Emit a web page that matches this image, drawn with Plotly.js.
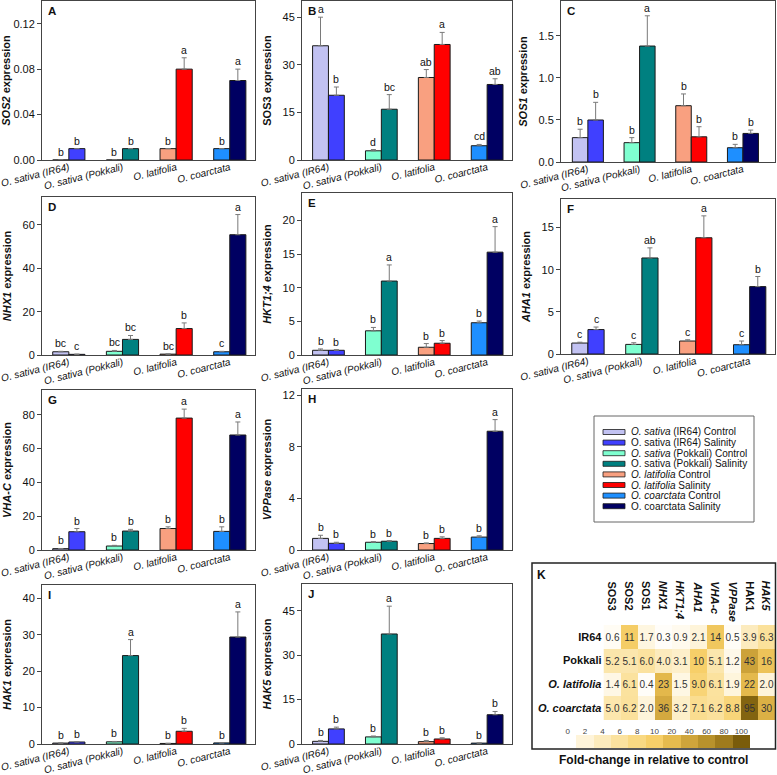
<!DOCTYPE html>
<html><head><meta charset="utf-8">
<script src="https://cdn.plot.ly/plotly-3.0.1.min.js"></script>
<style>html,body{margin:0;padding:0;background:#fff}#chart{width:777px;height:775px}</style>
</head><body><div id="chart"></div>
<script>
// ---------------- DATA ----------------
const groups = ['O. sativa (IR64)', 'O. sativa (Pokkali)', 'O. latifolia', 'O. coarctata'];
const seriesNames = ['<i>O. sativa</i> (IR64) Control', 'O. sativa (IR64) Salinity',
  '<i>O. sativa</i> (Pokkali) Control', 'O. sativa (Pokkali) Salinity',
  '<i>O. latifolia</i> Control', '<i>O. latifolia</i> Salinity',
  '<i>O. coarctata</i> Control', 'O. coarctata Salinity'];

// A  SOS2
const sos2Ctrl = [0, 0, 0.01, 0.01];
const sos2CtrlErr = [0, 0, 0, 0];
const sos2Sal = [0.01, 0.01, 0.08, 0.07];
const sos2SalErr = [0, 0, 0.01, 0.01];
const sos2CtrlLet = ['b', 'b', 'b', 'b'];
const sos2SalLet = ['b', 'b', 'a', 'a'];
// B  SOS3
const sos3Ctrl = [36, 2.9, 26, 4.5];
const sos3CtrlErr = [9, 0.4, 2.5, 0.4];
const sos3Sal = [20.4, 16.0, 36.4, 23.8];
const sos3SalErr = [2.6, 4.6, 3.8, 1.8];
const sos3CtrlLet = ['a', 'd', 'ab', 'cd'];
const sos3SalLet = ['b', 'bc', 'a', 'ab'];
// C  SOS1
const sos1Ctrl = [0.29, 0.23, 0.67, 0.17];
const sos1CtrlErr = [0.1, 0.06, 0.14, 0.04];
const sos1Sal = [0.50, 1.38, 0.30, 0.34];
const sos1SalErr = [0.21, 0.36, 0.12, 0.04];
const sos1CtrlLet = ['b', 'b', 'b', 'b'];
const sos1SalLet = ['b', 'a', 'b', 'b'];
// D  NHX1
const nhx1Ctrl = [1.5, 1.7, 0.4, 1.5];
const nhx1CtrlErr = [0.2, 0.4, 0.1, 0.2];
const nhx1Sal = [0.3, 7.2, 12.2, 55.5];
const nhx1SalErr = [0.1, 1.8, 2.6, 9.3];
const nhx1CtrlLet = ['bc', 'bc', 'bc', 'c'];
const nhx1SalLet = ['c', 'bc', 'b', 'a'];
// E  HKT1;4
const hktCtrl = [0.7, 3.6, 1.15, 4.8];
const hktCtrlErr = [0.2, 0.5, 0.55, 0.25];
const hktSal = [0.7, 11.0, 1.75, 15.3];
const hktSalErr = [0.1, 2.4, 0.4, 3.8];
const hktCtrlLet = ['b', 'b', 'b', 'b'];
const hktSalLet = ['b', 'a', 'b', 'a'];
// F  AHA1
const aha1Ctrl = [1.3, 1.14, 1.54, 1.1];
const aha1CtrlErr = [0.1, 0.2, 0.15, 0.44];
const aha1Sal = [2.9, 11.4, 13.8, 8.0];
const aha1SalErr = [0.3, 1.2, 2.6, 1.2];
const aha1CtrlLet = ['c', 'c', 'c', 'c'];
const aha1SalLet = ['c', 'ab', 'a', 'b'];
// G  VHA-C
const vhaCtrl = [0.8, 2.35, 12.7, 11.0];
const vhaCtrlErr = [0.1, 0.4, 1.0, 2.7];
const vhaSal = [10.8, 11.2, 78, 68];
const vhaSalErr = [1.9, 1.0, 5.3, 7.7];
const vhaCtrlLet = ['b', 'b', 'b', 'b'];
const vhaSalLet = ['b', 'b', 'a', 'a'];
// H  VPPase
const vppCtrl = [0.9, 0.6, 0.5, 1.0];
const vppCtrlErr = [0.24, 0.05, 0.05, 0.1];
const vppSal = [0.52, 0.68, 0.9, 9.2];
const vppSalErr = [0.08, 0.05, 0.12, 0.9];
const vppCtrlLet = ['b', 'b', 'b', 'b'];
const vppSalLet = ['b', 'b', 'b', 'a'];
// I  HAK1
const hak1Ctrl = [0.25, 0.6, 0.15, 0.3];
const hak1CtrlErr = [0.05, 0.1, 0.05, 0.05];
const hak1Sal = [0.55, 24.3, 3.5, 29.4];
const hak1SalErr = [0.1, 4.4, 0.8, 6.9];
const hak1CtrlLet = ['b', 'b', 'b', 'b'];
const hak1SalLet = ['b', 'a', 'b', 'a'];
// J  HAK5
const hak5Ctrl = [0.9, 2.4, 0.8, 0.3];
const hak5CtrlErr = [0.3, 0.3, 0.4, 0.05];
const hak5Sal = [5.1, 37.2, 1.7, 9.9];
const hak5SalErr = [0.6, 9.4, 0.4, 1.1];
const hak5CtrlLet = ['b', 'b', 'b', 'b'];
const hak5SalLet = ['b', 'a', 'b', 'b'];

// K  heatmap: fold-change relative to control
const genes = ['SOS3', 'SOS2', 'SOS1', 'NHX1', 'HKT1;4', 'AHA1', 'VHA-c', 'VPPase', 'HAK1', 'HAK5'];
const heatRows = ['IR64', 'Pokkali', 'O. latifolia', 'O. coarctata'];
const foldIR64 = [0.6, 11, 1.7, 0.3, 0.9, 2.1, 14, 0.5, 3.9, 6.3];
const foldPokkali = [5.2, 5.1, 6.0, 4.0, 3.1, 10, 5.1, 1.2, 43, 16];
const foldLatifolia = [1.4, 6.1, 0.4, 23, 1.5, 9.0, 6.1, 1.9, 22, 2.0];
const foldCoarctata = [5.0, 6.2, 2.0, 36, 3.2, 7.1, 6.2, 8.8, 95, 30];
const scaleSteps = [0, 2, 4, 6, 8, 10, 20, 40, 60, 80, 100];

// ---------------- STYLE ----------------
const ctrlColors = ['#c2c2f2', '#7fffd0', '#f9a080', '#1e8fff'];
const salColors = ['#4040ff', '#008080', '#ff0000', '#000062'];
const stepColors = ['#ffffff', '#fef4da', '#fcebbd', '#fbe29f', '#f9d983', '#f7cf69',
  '#e6bb4e', '#cfa53b', '#b8922c', '#9f7b1d', '#7a5c0b'];
const FONT = 'Liberation Sans, Arial, sans-serif';
const W = 777, H = 775;
const px = v => v / W;
const py = v => 1 - v / H;

const panels = [
  {L: 'A', t: '<b><i>SOS2</i> expression</b>', c: sos2Ctrl, ce: sos2CtrlErr, s: sos2Sal, se: sos2SalErr, cl: sos2CtrlLet, sl: sos2SalLet, r: [0, 0.14], dt: 0.04, f: '.2f', b: [42, 255, 1, 160], xr: [-0.5, 3.47]},
  {L: 'B', t: '<b>SOS3 expression</b>', c: sos3Ctrl, ce: sos3CtrlErr, s: sos3Sal, se: sos3SalErr, cl: sos3CtrlLet, sl: sos3SalLet, r: [0, 50.1], dt: 15, f: '', b: [302, 512, 1, 160], xr: [-0.5, 3.47]},
  {L: 'C', t: '<b><i>SOS1</i> expression</b>', c: sos1Ctrl, ce: sos1CtrlErr, s: sos1Sal, se: sos1SalErr, cl: sos1CtrlLet, sl: sos1SalLet, r: [0, 1.916], dt: 0.5, f: '.1f', b: [561, 775, 1, 162], xr: [-0.52, 3.62]},
  {L: 'D', t: '<b><i>NHX1</i> expression</b>', c: nhx1Ctrl, ce: nhx1CtrlErr, s: nhx1Sal, se: nhx1SalErr, cl: nhx1CtrlLet, sl: nhx1SalLet, r: [0, 72.9], dt: 20, f: '', b: [42, 255, 197, 355], xr: [-0.5, 3.47]},
  {L: 'E', t: '<b><i>HKT1;4</i> expression</b>', c: hktCtrl, ce: hktCtrlErr, s: hktSal, se: hktSalErr, cl: hktCtrlLet, sl: hktSalLet, r: [0, 24.1], dt: 5, f: '', b: [302, 512, 193, 355], xr: [-0.5, 3.47]},
  {L: 'F', t: '<b><i>AHA1</i> expression</b>', c: aha1Ctrl, ce: aha1CtrlErr, s: aha1Sal, se: aha1SalErr, cl: aha1CtrlLet, sl: aha1SalLet, r: [0, 18.4], dt: 5, f: '', b: [561, 775, 199, 354], xr: [-0.5, 3.47]},
  {L: 'G', t: '<b><i>VHA-C</i> expression</b>', c: vhaCtrl, ce: vhaCtrlErr, s: vhaSal, se: vhaSalErr, cl: vhaCtrlLet, sl: vhaSalLet, r: [0, 94.6], dt: 20, f: '', b: [42, 255, 390, 550], xr: [-0.5, 3.47]},
  {L: 'H', t: '<b><i>VPPase</i> expression</b>', c: vppCtrl, ce: vppCtrlErr, s: vppSal, se: vppSalErr, cl: vppCtrlLet, sl: vppSalLet, r: [0, 12.47], dt: 4, f: '', b: [302, 512, 389, 550], xr: [-0.5, 3.47]},
  {L: 'I', t: '<b><i>HAK1</i> expression</b>', c: hak1Ctrl, ce: hak1CtrlErr, s: hak1Sal, se: hak1SalErr, cl: hak1CtrlLet, sl: hak1SalLet, r: [0, 43.7], dt: 10, f: '', b: [42, 255, 585, 744], xr: [-0.5, 3.47]},
  {L: 'J', t: '<b><i>HAK5</i> expression</b>', c: hak5Ctrl, ce: hak5CtrlErr, s: hak5Sal, se: hak5SalErr, cl: hak5CtrlLet, sl: hak5SalLet, r: [0, 54.1], dt: 15, f: '', b: [302, 512, 584, 744], xr: [-0.5, 3.47]}
];

const traces = [];
const annotations = [];
const shapes = [];
const layout = {
  width: W, height: H, margin: {l: 0, r: 0, t: 0, b: 0},
  paper_bgcolor: '#fff', plot_bgcolor: '#fff',
  font: {family: FONT, color: '#111', size: 11},
  barmode: 'group', bargap: 0.4, bargroupgap: 0,
  showlegend: false
};

panels.forEach((p, k) => {
  const n = k + 1;
  const xa = 'x' + n, ya = 'y' + n;
  const zeros = p.c.map(() => 0);
  [[p.c, p.ce, ctrlColors], [p.s, p.se, salColors]].forEach(([vals, errs, cols]) => {
    traces.push({
      type: 'bar', x: groups, y: vals, xaxis: xa, yaxis: ya,
      marker: {color: cols, line: {color: '#1a1a1a', width: 1}},
      error_y: {type: 'data', symmetric: false, array: errs, arrayminus: zeros,
        color: '#7a7a7a', thickness: 1, width: 2.5},
      hoverinfo: 'skip', showlegend: false
    });
  });
  layout['xaxis' + n] = {
    domain: [px(p.b[0]), px(p.b[1])], anchor: ya, type: 'category',
    range: p.xr, showline: true, mirror: true, linecolor: '#444', linewidth: 1,
    ticks: '', tickangle: -14, ticklabelstandoff: -3, showgrid: false, zeroline: false, automargin: false,
    tickfont: {size: 10, style: 'italic', family: FONT, color: '#111'}
  };
  layout['yaxis' + n] = {
    domain: [py(p.b[3]), py(p.b[2])], anchor: xa, range: p.r,
    tick0: 0, dtick: p.dt, tickformat: p.f,
    showline: true, mirror: true, linecolor: '#444', linewidth: 1,
    ticks: 'outside', ticklen: 4, tickcolor: '#444', showgrid: false, zeroline: false,
    automargin: false, tickfont: {size: 11, family: FONT, color: '#111'},
    title: {text: p.t, font: {size: 11, family: FONT, color: '#111'}, standoff: 8}
  };
  // panel letter
  annotations.push({xref: xa + ' domain', yref: ya + ' domain', x: 0, y: 1, xshift: 4, yshift: -2,
    xanchor: 'left', yanchor: 'top', showarrow: false,
    text: '<b>' + p.L + '</b>', font: {size: 11.5, family: FONT, color: '#111'}});
  // significance letters
  groups.forEach((g, i) => {
    annotations.push({xref: xa, yref: ya, x: i - 0.15, y: p.c[i] + p.ce[i], yanchor: 'bottom',
      showarrow: false, text: p.cl[i], font: {size: 10.5, family: FONT, color: '#111'}, yshift: 0});
    annotations.push({xref: xa, yref: ya, x: i + 0.15, y: p.s[i] + p.se[i], yanchor: 'bottom',
      showarrow: false, text: p.sl[i], font: {size: 10.5, family: FONT, color: '#111'}, yshift: 0});
  });
});

// ---------------- LEGEND (manual box) ----------------
shapes.push({type: 'rect', xref: 'paper', yref: 'paper', x0: px(594), x1: px(754), y0: py(522), y1: py(416),
  line: {color: '#666', width: 1}, fillcolor: 'rgba(0,0,0,0)'});
seriesNames.forEach((name, i) => {
  const cy = 432 + i * 10.6;
  const col = (i % 2 === 0 ? ctrlColors : salColors)[Math.floor(i / 2)];
  shapes.push({type: 'rect', xref: 'paper', yref: 'paper', x0: px(603), x1: px(625),
    y0: py(cy + 2.5), y1: py(cy - 2.5), fillcolor: col, line: {color: '#1a1a1a', width: 0.8}});
  annotations.push({xref: 'paper', yref: 'paper', x: px(629), y: py(cy), xanchor: 'left', yanchor: 'middle',
    showarrow: false, text: name, font: {size: 10, family: FONT, color: '#111'}});
});

// ---------------- HEATMAP K ----------------
const foldMatrix = [foldIR64, foldPokkali, foldLatifolia, foldCoarctata];
const colorscale = [];
scaleSteps.forEach((s, i) => colorscale.push([s / 100, stepColors[i]]));
const fmt = v => (v < 10 ? v.toFixed(1) : String(Math.round(v)));
traces.push({
  type: 'heatmap', x: genes, y: heatRows, z: foldMatrix, xaxis: 'x11', yaxis: 'y11',
  zmin: 0, zmax: 100, colorscale: colorscale, showscale: false, xgap: 0, ygap: 0,
  text: foldMatrix.map(r => r.map(fmt)), texttemplate: '%{text}',
  textfont: {size: 10, family: FONT, color: '#333'}, hoverinfo: 'skip'
});
layout.xaxis11 = {domain: [px(603.5), px(775.5)], anchor: 'y11', type: 'category',
  showticklabels: false, ticks: '', showline: false, showgrid: false, zeroline: false, automargin: false};
layout.yaxis11 = {domain: [py(720), py(625)], anchor: 'x11', type: 'category', autorange: 'reversed',
  tickvals: heatRows, ticktext: heatRows.map(r => r.startsWith('O.') ? '<b><i>' + r + '</i></b>' : '<b>' + r + '</b>'),
  ticks: '', showline: false, showgrid: false, zeroline: false, automargin: false,
  tickfont: {size: 11, family: FONT, color: '#111'}, ticklabelstandoff: 1};
const italicGenes = ['NHX1', 'HKT1;4', 'AHA1', 'VHA-c', 'VPPase', 'HAK5'];
genes.forEach((g, i) => {
  annotations.push({xref: 'x11', yref: 'paper', x: i, y: py(579), xanchor: 'center', yanchor: 'top',
    textangle: 90, showarrow: false,
    text: italicGenes.includes(g) ? '<b><i>' + g + '</i></b>' : '<b>' + g + '</b>',
    font: {size: 11, family: FONT, color: '#111'}});
});
// colour key
traces.push({
  type: 'heatmap', x: scaleSteps.map(String), y: ['key'], z: [scaleSteps], xaxis: 'x12', yaxis: 'y12',
  zmin: 0, zmax: 100, colorscale: colorscale, showscale: false, xgap: 0, hoverinfo: 'skip'
});
layout.xaxis12 = {domain: [px(559), px(750)], anchor: 'y12', type: 'category', side: 'top',
  ticks: '', showline: false, showgrid: false, zeroline: false, automargin: false,
  tickfont: {size: 8, family: FONT, color: '#444'}, ticklabelstandoff: -2};
layout.yaxis12 = {domain: [py(748), py(735)], anchor: 'x12', showticklabels: false, ticks: '',
  showline: false, showgrid: false, zeroline: false, automargin: false};
shapes.push({type: 'rect', xref: 'paper', yref: 'paper', x0: px(532), x1: px(775.5), y0: py(749), y1: py(563),
  line: {color: '#222', width: 1.5}, fillcolor: 'rgba(0,0,0,0)'});
annotations.push({xref: 'paper', yref: 'paper', x: px(535), y: py(566), xanchor: 'left', yanchor: 'top',
  showarrow: false, text: '<b>K</b>', font: {size: 12, family: FONT, color: '#111'}});
annotations.push({xref: 'paper', yref: 'paper', x: px(653), y: py(760), xanchor: 'center', yanchor: 'middle',
  showarrow: false, text: '<b>Fold-change in relative to control</b>', font: {size: 12, family: FONT, color: '#111'}});

layout.annotations = annotations;
layout.shapes = shapes;
Plotly.newPlot('chart', traces, layout, {displayModeBar: false, staticPlot: true});
</script>
</body></html>
